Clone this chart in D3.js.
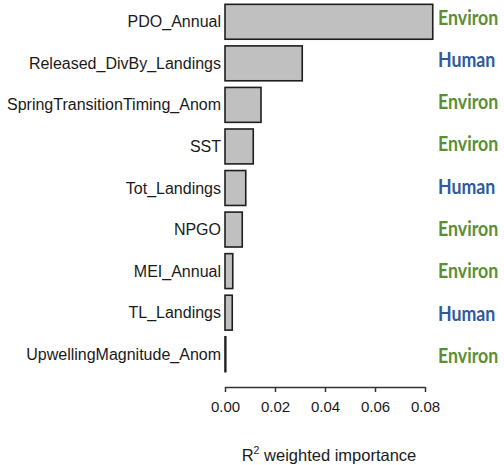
<!DOCTYPE html>
<html>
<head>
<meta charset="utf-8">
<script src="https://cdn.jsdelivr.net/npm/d3@7"></script>
<style>
  html, body { margin: 0; padding: 0; background: #ffffff; }
  svg { display: block; }
</style>
</head>
<body>
<script>
// ---- data ----
const variables = ["PDO_Annual", "Released_DivBy_Landings", "SpringTransitionTiming_Anom", "SST",
                   "Tot_Landings", "NPGO", "MEI_Annual", "TL_Landings", "UpwellingMagnitude_Anom"];
const importance = [0.0831, 0.0309, 0.0144, 0.0113, 0.0083, 0.0069, 0.0031, 0.0029, 0.0003];
const driverType = ["Environ", "Human", "Environ", "Environ", "Human", "Environ", "Environ", "Human", "Environ"];
const xTicks = [0, 0.02, 0.04, 0.06, 0.08];
const xTitle = "weighted importance";

const W = 504, H = 465;
const svg = d3.select("body").append("svg").attr("width", W).attr("height", H);

const x = d3.scaleLinear().domain([0, 0.08]).range([225, 425]);
const y = d3.scaleBand().domain(variables).range([1, 375]).paddingInner(0.16).paddingOuter(0.08);
const yLab = d3.scalePoint().domain(variables).range([17, 355.5]);
const typeColor = d3.scaleOrdinal().domain(["Environ", "Human"]).range(["#5a8f33", "#2f5a9e"]);

// bars
svg.append("g").selectAll("rect")
  .data(variables)
  .join("rect")
  .attr("x", x(0))
  .attr("y", d => y(d))
  .attr("width", (d, i) => Math.max(0.5, x(importance[i]) - x(0)))
  .attr("height", y.bandwidth())
  .attr("fill", "#c0c0c0")
  .attr("stroke", "#1e1e1e")
  .attr("stroke-width", 1.6);

// left labels
svg.append("g").selectAll("text")
  .data(variables)
  .join("text")
  .attr("x", 221)
  .attr("y", d => y(d) + y.bandwidth() / 2)
  .attr("dy", "0.35em")
  .attr("text-anchor", "end")
  .attr("font-family", "'Liberation Sans', Arial, sans-serif")
  .attr("font-size", 16)
  .attr("fill", "#1a1a1a")
  .text(d => d);

// right type labels (condensed horizontally)
svg.append("g").selectAll("text")
  .data(variables)
  .join("text")
  .attr("transform", d => `translate(438,${yLab(d)}) scale(0.845,1)`)
  .attr("dy", "0.36em")
  .attr("font-family", "Lato, 'Open Sans', sans-serif")
  .attr("font-weight", "bold")
  .attr("font-size", 21)
  .attr("fill", (d, i) => typeColor(driverType[i]))
  .text((d, i) => driverType[i]);

// x axis
const xAxis = d3.axisBottom(x)
  .tickValues(xTicks)
  .tickFormat(d3.format(".2f"))
  .tickSize(5)
  .tickSizeOuter(0)
  .tickPadding(9);

const ax = svg.append("g").attr("transform", "translate(0,387)").call(xAxis);
ax.select(".domain").attr("stroke", "#333").attr("stroke-width", 1.5);
ax.selectAll(".tick line").attr("stroke", "#333").attr("stroke-width", 1.5);
ax.selectAll(".tick text")
  .attr("font-family", "'Liberation Sans', Arial, sans-serif")
  .attr("font-size", 15)
  .attr("fill", "#1a1a1a");

// x title with superscript
const t = svg.append("text")
  .attr("x", 329)
  .attr("y", 460.5)
  .attr("text-anchor", "middle")
  .attr("font-family", "'Liberation Sans', Arial, sans-serif")
  .attr("font-size", 16.5)
  .attr("fill", "#1a1a1a");
t.append("tspan").text("R");
t.append("tspan").attr("font-size", 10.5).attr("dy", -6.5).text("2");
t.append("tspan").attr("dy", 6.5).text(" " + xTitle);
</script>
</body>
</html>
